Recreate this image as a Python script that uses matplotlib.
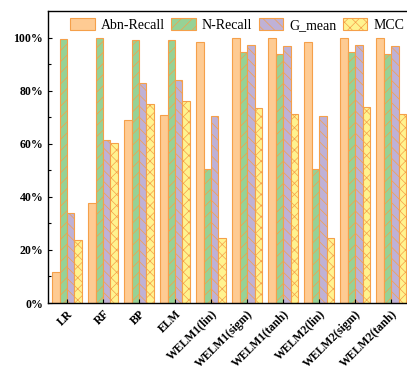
import matplotlib.pyplot as plt
import numpy as np

plt.rcParams['font.family'] = ['Liberation Serif', 'DejaVu Serif']
plt.rcParams['hatch.linewidth'] = 0.5

# Data goes here
models = ['LR', 'RF', 'BP', 'ELM', 'WELM1(lin)', 'WELM1(sigm)', 'WELM1(tanh)',
          'WELM2(lin)', 'WELM2(sigm)', 'WELM2(tanh)']
abn_recall = [11.7, 37.7, 69.0, 71.0, 98.5, 100.0, 100.0, 98.5, 100.0, 100.0]
n_recall = [99.5, 99.8, 99.0, 99.0, 50.6, 94.6, 93.8, 50.6, 94.6, 93.8]
g_mean = [34.0, 61.3, 82.7, 84.0, 70.6, 97.1, 96.9, 70.6, 97.2, 96.9]
mcc = [23.8, 60.2, 75.0, 76.0, 24.5, 73.5, 71.2, 24.5, 73.8, 71.3]

series = [('Abn-Recall', abn_recall, '#FECB93', ''),
          ('N-Recall', n_recall, '#96D296', '///'),
          ('G_mean', g_mean, '#BFB1D6', '\\\\\\'),
          ('MCC', mcc, '#FFF38F', 'xxx')]

fig = plt.figure(figsize=(4.07, 3.73), dpi=100)
ax = fig.add_axes([48 / 407, 70 / 373, 359 / 407, 292 / 373])

x = np.arange(len(models))
w = 0.205
for i, (name, vals, color, hatch) in enumerate(series):
    ax.bar(x + (i - 1.5) * w, vals, w, color=color, edgecolor='#F5A04A',
           hatch=hatch, linewidth=0.8, label=name)

ax.set_xlim(-0.53, 9.44)
ax.set_ylim(0, 110)
ax.set_yticks([0, 20, 40, 60, 80, 100])
ax.set_yticklabels(['0%', '20%', '40%', '60%', '80%', '100%'],
                   fontweight='bold', fontsize=8.5)
ax.set_yticks(np.arange(10, 110, 20), minor=True)
ax.set_xticks(x)
ax.set_xticklabels(models, rotation=45, ha='right', rotation_mode='anchor',
                   fontweight='bold', fontsize=8.5)
ax.tick_params(direction='in', length=3, width=0.8)
ax.tick_params(which='minor', direction='in', length=2, width=0.8)
ax.spines['right'].set_visible(False)
for s in ['left', 'bottom', 'top']:
    ax.spines[s].set_linewidth(1.0)

ax.legend(loc='center right', ncol=4, frameon=False, fontsize=10,
          bbox_to_anchor=((404 - 48) / 359, 1 - 14 / 292), handlelength=1.75,
          handleheight=0.9, columnspacing=0.45, handletextpad=0.45,
          borderpad=0, borderaxespad=0)

fig.savefig('out.png')
